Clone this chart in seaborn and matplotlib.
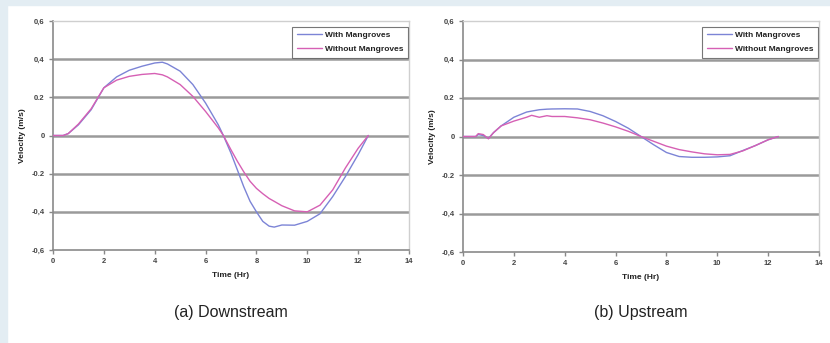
import matplotlib
matplotlib.use("Agg")
import matplotlib.pyplot as plt
import seaborn as sns
import pandas as pd

# ---- data ----
t_down = [0, 0.4, 0.6, 1.0, 1.5, 2.0, 2.5, 3.0, 3.5, 4.0, 4.3, 4.5, 5.0, 5.5, 6.0, 6.5, 6.7,
          7.0, 7.25, 7.5, 7.75, 8.0, 8.25, 8.5, 8.7, 9.0, 9.5, 10.0, 10.5, 11.0, 11.5, 12.0, 12.4]
down_with = [0, 0, 0.01, 0.056, 0.135, 0.25, 0.307, 0.342, 0.363, 0.38, 0.384, 0.375, 0.337,
             0.267, 0.17, 0.056, 0.0, -0.093, -0.18, -0.268, -0.345, -0.40, -0.45, -0.475,
             -0.48, -0.469, -0.47, -0.45, -0.41, -0.32, -0.215, -0.10, 0.0]
down_without = [0, 0, 0.01, 0.06, 0.14, 0.25, 0.29, 0.31, 0.32, 0.325, 0.318, 0.307, 0.267,
                0.205, 0.126, 0.04, 0.0, -0.075, -0.135, -0.19, -0.24, -0.277, -0.305, -0.33,
                -0.345, -0.368, -0.395, -0.40, -0.365, -0.285, -0.17, -0.067, 0.0]

t_up = [0, 0.5, 0.6, 0.8, 1.0, 1.2, 1.5, 2.0, 2.5, 2.7, 3.0, 3.3, 3.5, 4.0, 4.5, 5.0, 5.5,
        6.0, 6.5, 7.0, 7.5, 8.0, 8.5, 9.0, 9.5, 10.0, 10.5, 11.0, 11.5, 12.0, 12.4]
up_with = [0, 0, 0.01, 0.005, -0.01, 0.02, 0.055, 0.10, 0.127, 0.132, 0.139, 0.142, 0.143,
           0.144, 0.143, 0.13, 0.108, 0.078, 0.043, 0.0, -0.043, -0.083, -0.104, -0.108,
           -0.108, -0.106, -0.10, -0.073, -0.047, -0.017, 0.0]
up_without = [0, 0, 0.015, 0.01, -0.012, 0.02, 0.055, 0.08, 0.10, 0.11, 0.10, 0.108, 0.104,
              0.104, 0.097, 0.087, 0.07, 0.05, 0.027, 0.0, -0.025, -0.05, -0.068, -0.08,
              -0.09, -0.095, -0.093, -0.075, -0.047, -0.017, 0.0]

series_names = ["With Mangroves", "Without Mangroves"]
y_ticks = [0.6, 0.4, 0.2, 0, -0.2, -0.4, -0.6]
y_ticklabels = ["0,6", "0,4", "0.2", "0", "-0.2", "-0,4", "-0,6"]
x_ticks = [0, 2, 4, 6, 8, 10, 12, 14]
captions = ["(a) Downstream", "(b) Upstream"]

colors = {"With Mangroves": "#7c84d6", "Without Mangroves": "#d660b4"}


def make_df(t, a, b):
    return pd.DataFrame({
        "Time": t + t,
        "Velocity": a + b,
        "Series": [series_names[0]] * len(t) + [series_names[1]] * len(t),
    })


sns.set_style("white")
plt.rcParams["font.family"] = ["Liberation Sans", "DejaVu Sans"]

fig = plt.figure(figsize=(8.30, 3.43), dpi=100)
fig.patch.set_facecolor("white")
# light blue border strips
fig.patches.append(plt.Rectangle((0, 0), 7 / 830, 1, transform=fig.transFigure,
                                 color="#e3edf3", zorder=0))
fig.patches.append(plt.Rectangle((0, 1 - 5 / 343), 1, 5 / 343, transform=fig.transFigure,
                                 color="#e3edf3", zorder=0))

axes_pos = [[53 / 830, (343 - 250) / 343, 356 / 830, 229 / 343],
            [463 / 830, (343 - 252) / 343, 356 / 830, 231 / 343]]
dfs = [make_df(t_down, down_with, down_without), make_df(t_up, up_with, up_without)]

for pos, df, cap in zip(axes_pos, dfs, captions):
    ax = fig.add_axes(pos)
    for y in [0.4, 0.2, 0, -0.2, -0.4]:
        ax.axhline(y, color="#9a9a9a", lw=1.8, zorder=1)
    sns.lineplot(data=df, x="Time", y="Velocity", hue="Series", palette=colors,
                 ax=ax, lw=1.0, zorder=3, sort=False)
    ax.set_xlim(0, 14)
    ax.set_ylim(-0.6, 0.6)
    ax.set_xticks(x_ticks)
    ax.set_xticklabels([str(v) for v in x_ticks])
    ax.set_yticks(y_ticks)
    ax.set_yticklabels(y_ticklabels)
    ax.tick_params(axis="both", which="major", length=3, width=1, color="#888888",
                   labelsize=5.5, labelcolor="#444444", pad=3, direction="out",
                   left=True, bottom=True)
    for lab in ax.get_xticklabels() + ax.get_yticklabels():
        lab.set_fontweight("bold")
    for side in ["left", "bottom"]:
        ax.spines[side].set_color("#8a8a8a")
        ax.spines[side].set_linewidth(1.2)
    for side in ["top", "right"]:
        ax.spines[side].set_color("#cfcfcf")
        ax.spines[side].set_linewidth(1.0)
    ax.set_xlabel("Time (Hr)", fontsize=6, fontweight="bold", color="#222222", labelpad=5)
    ax.set_ylabel("Velocity (m/s)", fontsize=6, fontweight="bold", color="#222222", labelpad=4)
    leg = ax.legend(loc="upper right", bbox_to_anchor=(0.997, 0.975), fontsize=6,
                    frameon=True, fancybox=False, handlelength=3.0, borderpad=0.55,
                    labelspacing=0.75, handletextpad=0.4, borderaxespad=0.0)
    leg.get_frame().set_edgecolor("#555555")
    leg.get_frame().set_linewidth(0.8)
    for txt in leg.get_texts():
        txt.set_fontweight("bold")
        txt.set_color("#222222")
    for h in leg.get_lines():
        h.set_linewidth(1.0)
    cx = pos[0] + pos[2] / 2
    fig.text(cx, 1 - 312 / 343, cap, ha="center", va="center", fontsize=11.5,
             family=["Liberation Sans Narrow", "Liberation Sans"], color="#222222")

fig.savefig("out.png", dpi=100, facecolor=fig.get_facecolor())
